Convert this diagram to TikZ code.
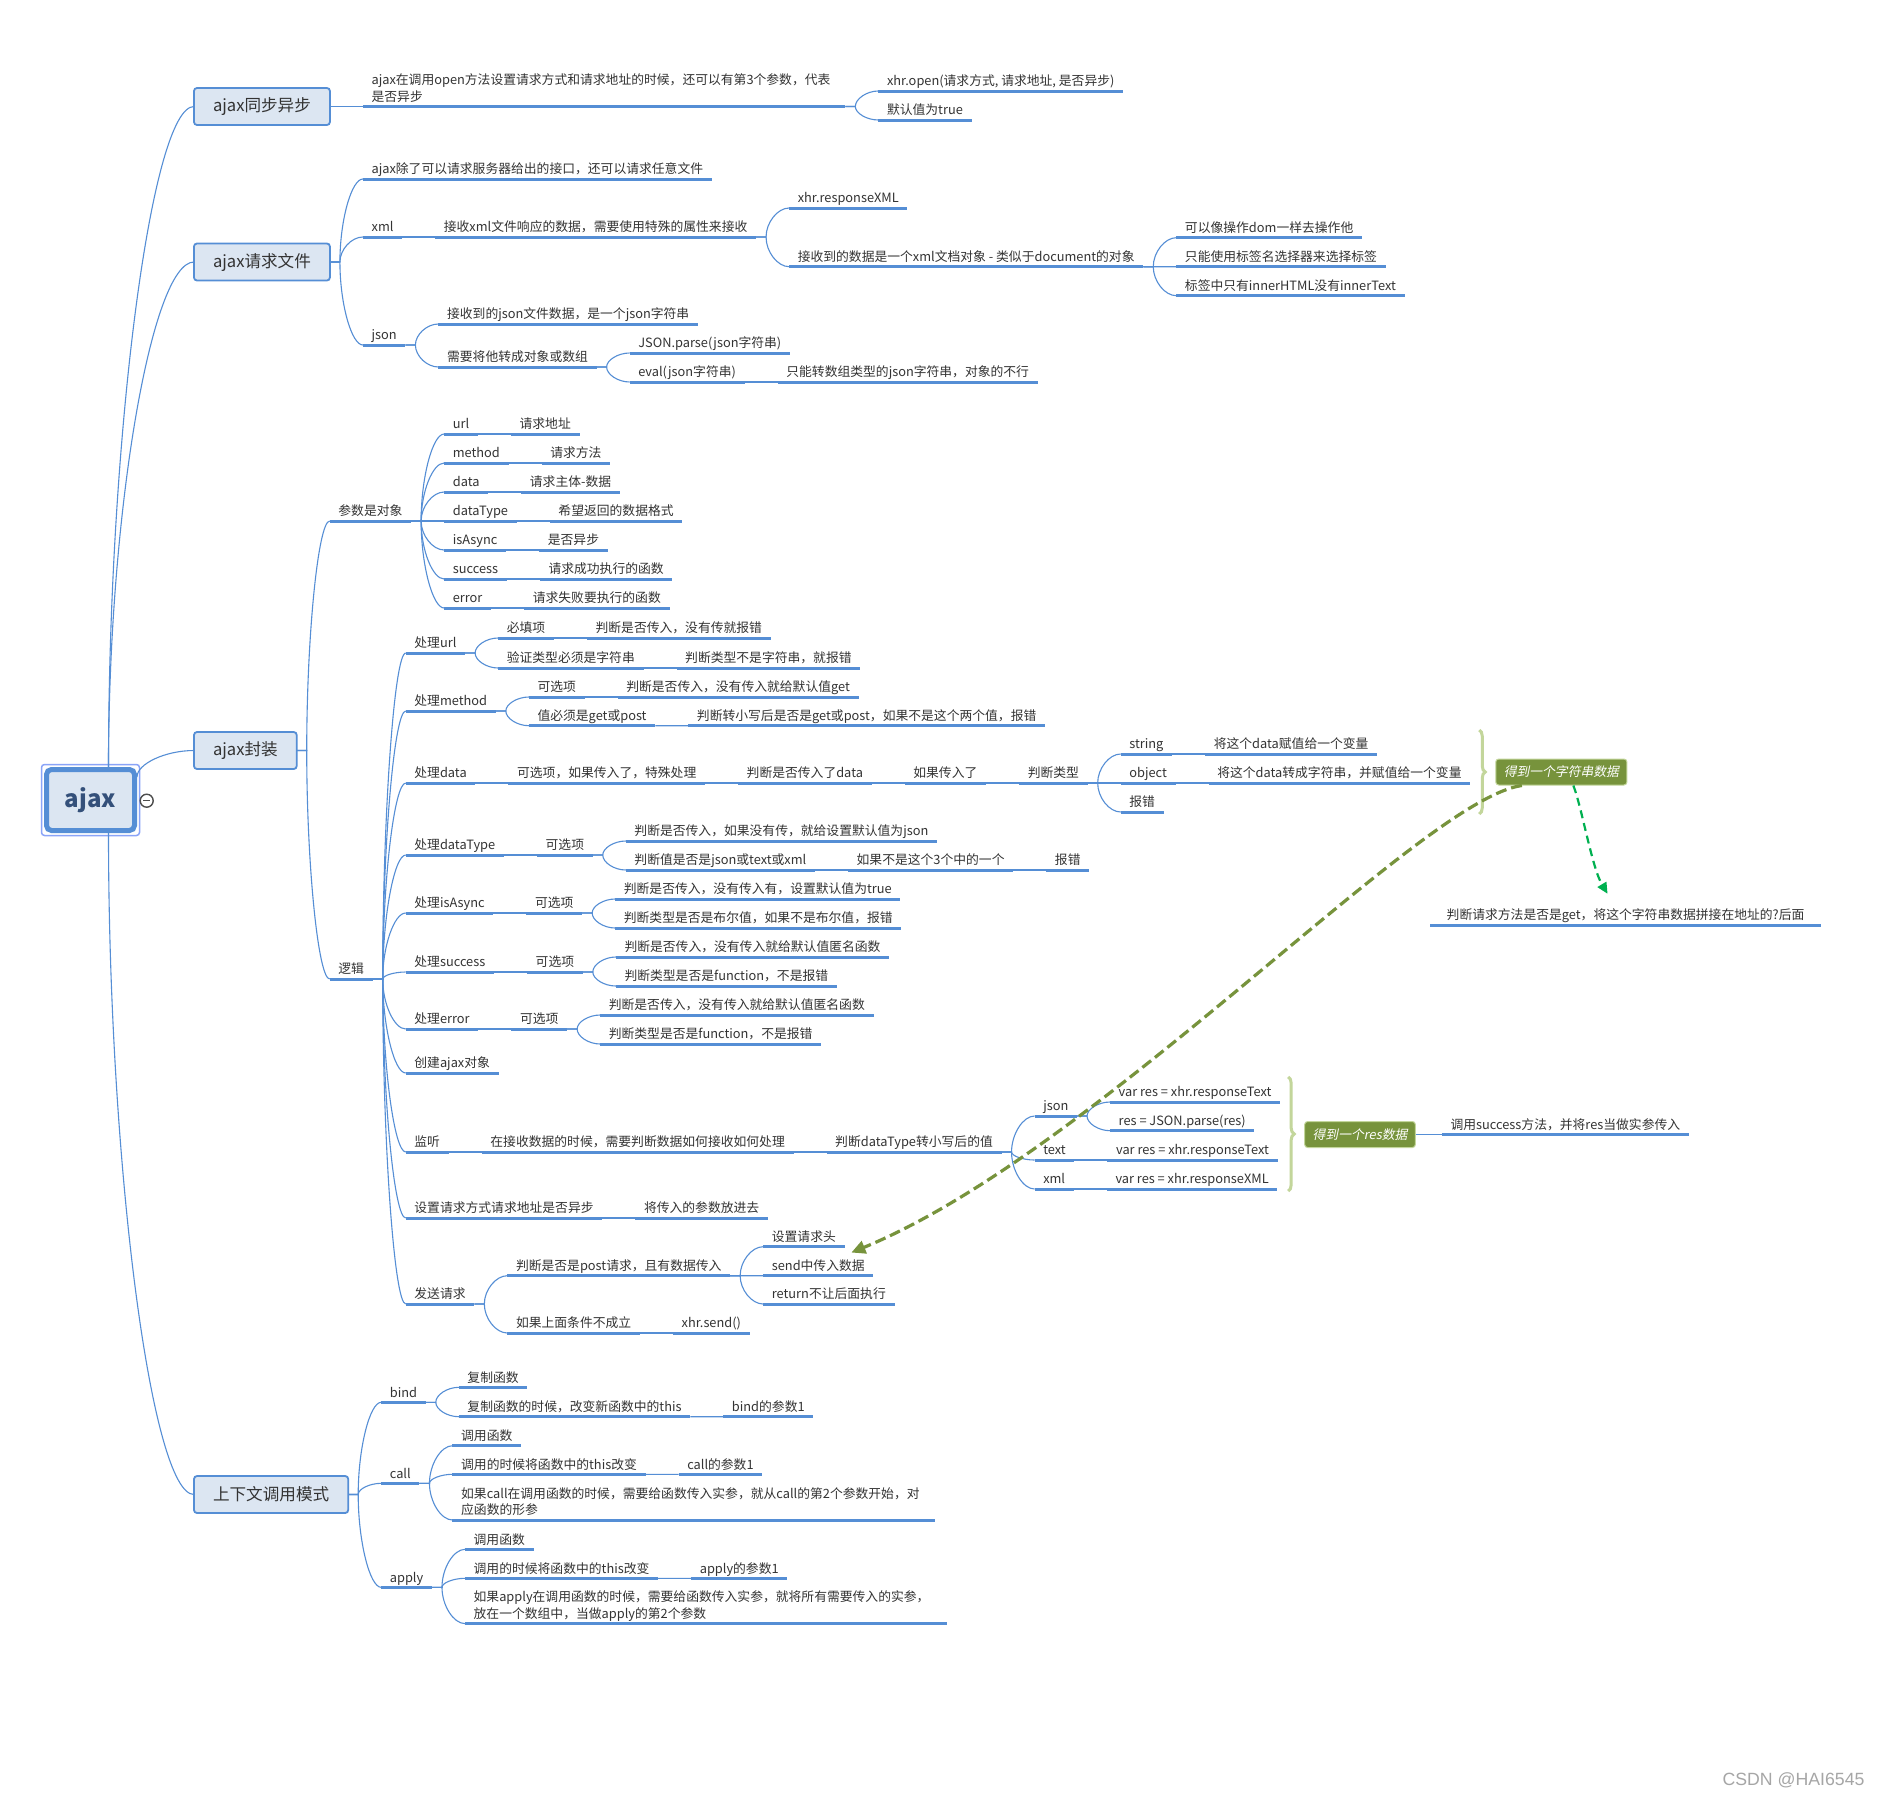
\documentclass[tikz,border=0pt]{standalone}
\usepackage{fontspec}
\setmainfont{Noto Sans CJK SC}
\newfontfamily\slantcjk[FakeSlant=0.2]{Noto Sans CJK SC}
\newfontfamily\wmfont{Liberation Sans}
\usetikzlibrary{arrows.meta,positioning,fit,calc,decorations.pathreplacing}
\definecolor{lnk}{HTML}{558ED5}
\definecolor{boxfill}{HTML}{DCE6F2}
\definecolor{txt}{HTML}{333333}
\definecolor{rootink}{HTML}{34507A}
\definecolor{selfrm}{HTML}{8AA4F8}
\definecolor{foldink}{HTML}{4D4D4D}
\definecolor{olive}{HTML}{77933C}
\definecolor{brc}{HTML}{C3D69B}
\definecolor{grn}{HTML}{00B050}
\definecolor{wmgray}{HTML}{A6A6A6}
\newcommand{\tsize}{\fontsize{12.8}{16.8}\selectfont}
\tikzset{
  topic/.style={anchor=south west,inner xsep=8.5pt,inner ysep=5pt,text depth=0pt,font=\tsize,text=txt,
    append after command={(\tikzlastnode.south west) edge[uline] (\tikzlastnode.south east)}},
  twoline/.style={text width=465pt,align=left,text depth=16.8pt},
  uline/.style={draw=lnk,line width=3pt},
  kid/.style={xshift=33pt},
  mainbox/.style={draw=lnk,line width=1.8pt,fill=boxfill,rounded corners=3pt,anchor=west,outer sep=0pt,
    inner xsep=19pt,minimum height=37pt,font=\fontsize{16.6}{20}\selectfont,text=txt},
  rootbox/.style={draw=lnk,line width=5pt,fill=boxfill,rounded corners=5pt,minimum width=88pt,
    minimum height=61pt,font=\fontsize{24}{28}\selectfont\bfseries,text=rootink},
  sumbox/.style={draw=brc,line width=1pt,fill=olive,rounded corners=3pt,anchor=west,text=white,
    font=\slantcjk\tsize,inner xsep=8pt,minimum height=26pt},
  grp/.style={draw=brc,line width=3pt,decorate,decoration={brace,amplitude=6pt}},
  foldmark/.style={circle,draw=foldink,line width=1.4pt,fill=white,minimum size=13pt,inner sep=0pt},
  link/.style={draw=lnk,line width=1.1pt,to path={-- ++(#1,0) coordinate (stb)
    .. controls ($(stb)!0.5!(stb|-\tikztotarget)$) and ($(\tikztotarget)!0.5!(stb|-\tikztotarget)$)
    .. (\tikztotarget)}},
  link/.default=10,
  jump/.style={-{Triangle[length=14pt,width=13pt]},draw=olive,line width=3.2pt,dash pattern=on 11pt off 5pt},
  hint/.style={-{Triangle[length=11pt,width=10pt]},draw=grn,line width=2.2pt,dash pattern=on 8pt off 5pt},
}
\begin{document}
\begin{tikzpicture}[x=1pt,y=-1pt]
\path[fill=white,use as bounding box] (0,0) rectangle (1881,1796);
% root and main topics
\node[rootbox] (root) at (90.5,800) {ajax};
\node[draw=selfrm,line width=1.5pt,rounded corners=3pt,fit=(root),inner sep=2.5pt] (sel) {};
\node[foldmark] (fold) at (146.7,800.7) {};
\draw[foldink,line width=1.4pt] ([xshift=-3.6pt]fold.center) -- ([xshift=3.6pt]fold.center);
\node[mainbox] (sync) at (194,106.5) {ajax同步异步};
\node[mainbox] (file) at (194,262) {ajax请求文件};
\node[mainbox] (wrap) at (194,750.5) {ajax封装};
\node[mainbox] (ctx) at (194,1494.5) {上下文调用模式};
\draw[link=0] ([xshift=18pt]root.north) to (sync.west);
\draw[link=0] ([xshift=18pt]root.north) to (file.west);
\draw[link=0] ([yshift=-10pt]root.north east) to (wrap.west);
\draw[link=0] ([xshift=18pt]root.south) to (ctx.west);

% ajax同步异步
\node[topic,kid,twoline] (syncq) at (sync.east) {ajax在调用open方法设置请求方式和请求地址的时候，还可以有第3个参数，代表\\是否异步};
\node[topic,kid] (xopen) at (syncq.south east |- 0,91) {xhr.open(请求方式, 请求地址, 是否异步)};
\node[topic,kid] (deftrue) at (syncq.south east |- 0,120) {默认值为true};

% ajax请求文件
\node[topic,kid] (fany) at (file.east |- 0,179) {ajax除了可以请求服务器给出的接口，还可以请求任意文件};
\node[topic,kid] (fxml) at (file.east |- 0,237) {xml};
\node[topic,kid] (xrecv) at (fxml.south east) {接收xml文件响应的数据，需要使用特殊的属性来接收};
\node[topic,kid] (xprop) at (xrecv.south east |- 0,208) {xhr.responseXML};
\node[topic,kid] (xdoc) at (xrecv.south east |- 0,266.7) {接收到的数据是一个xml文档对象 - 类似于document的对象};
\node[topic,kid] (xdom) at (xdoc.south east |- 0,237.7) {可以像操作dom一样去操作他};
\node[topic,kid] (xtag) at (xdoc.south east) {只能使用标签名选择器来选择标签};
\node[topic,kid] (xinner) at (xdoc.south east |- 0,295.7) {标签中只有innerHTML没有innerText};
\node[topic,kid] (fjson) at (file.east |- 0,345) {json};
\node[topic,kid] (jrecv) at (fjson.south east |- 0,324) {接收到的json文件数据，是一个json字符串};
\node[topic,kid] (jconv) at (fjson.south east |- 0,367) {需要将他转成对象或数组};
\node[topic,kid] (jparse) at (jconv.south east |- 0,353) {JSON.parse(json字符串)};
\node[topic,kid] (jeval) at (jconv.south east |- 0,382) {eval(json字符串)};
\node[topic,kid] (jevalno) at (jeval.south east) {只能转数组类型的json字符串，对象的不行};

% ajax封装: 参数
\node[topic,kid] (param) at (wrap.east |- 0,521) {参数是对象};
\foreach \nm/\py/\pk/\pv in {purl/434/url/请求地址, pmeth/463/method/请求方法, pdata/492/data/请求主体-数据,
    ptype/521/dataType/希望返回的数据格式, pasync/550/isAsync/是否异步, psucc/579/success/请求成功执行的函数,
    perr/608/error/请求失败要执行的函数} {
  \node[topic,kid] (\nm) at (param.south east |- 0,\py) {\pk};
  \node[topic,kid] (\nm-v) at (\nm.south east) {\pv};
  \draw[link] (param.south east) to (\nm.south west);
  \draw[link] (\nm.south east) to (\nm-v.south west);
}

% ajax封装: 逻辑
\node[topic,kid] (logic) at (wrap.east |- 0,979) {逻辑};
\node[topic,kid] (hurl) at (logic.south east |- 0,653) {处理url};
\node[topic,kid] (hurlreq) at (hurl.south east |- 0,638) {必填项};
\node[topic,kid] (hurlreqd) at (hurlreq.south east) {判断是否传入，没有传就报错};
\node[topic,kid] (hurlstr) at (hurl.south east |- 0,668) {验证类型必须是字符串};
\node[topic,kid] (hurlstrd) at (hurlstr.south east) {判断类型不是字符串，就报错};
\node[topic,kid] (hmeth) at (logic.south east |- 0,711) {处理method};
\node[topic,kid] (hmethopt) at (hmeth.south east |- 0,697) {可选项};
\node[topic,kid] (hmethoptd) at (hmethopt.south east) {判断是否传入，没有传入就给默认值get};
\node[topic,kid] (hmethval) at (hmeth.south east |- 0,725.7) {值必须是get或post};
\node[topic,kid] (hmethvald) at (hmethval.south east) {判断转小写后是否是get或post，如果不是这个两个值，报错};
\node[topic,kid] (hdata) at (logic.south east |- 0,783) {处理data};
\node[topic,kid] (hdata1) at (hdata.south east) {可选项，如果传入了，特殊处理};
\node[topic,kid] (hdata2) at (hdata1.south east) {判断是否传入了data};
\node[topic,kid] (hdata3) at (hdata2.south east) {如果传入了};
\node[topic,kid] (hdata4) at (hdata3.south east) {判断类型};
\node[topic,kid] (dstr) at (hdata4.south east |- 0,754) {string};
\node[topic,kid] (dstrd) at (dstr.south east) {将这个data赋值给一个变量};
\node[topic,kid] (dobj) at (hdata4.south east) {object};
\node[topic,kid] (dobjd) at (dobj.south east) {将这个data转成字符串，并赋值给一个变量};
\node[topic,kid] (derr) at (hdata4.south east |- 0,812) {报错};
\coordinate (gs) at ([xshift=9pt]dobjd.south east);
\draw[grp] (gs |- 0,730) -- (gs |- 0,814);
\node[sumbox,xshift=16pt] (strbox) at (gs |- 0,772) {得到一个字符串数据};
\node[topic,inner xsep=16.5pt] (getn) at (1430,925) {判断请求方法是否是get，将这个字符串数据拼接在地址的?后面};
\node[topic,kid] (htype) at (logic.south east |- 0,855) {处理dataType};
\node[topic,kid] (htypeopt) at (htype.south east) {可选项};
\node[topic,kid] (htypedef) at (htypeopt.south east |- 0,841) {判断是否传入，如果没有传，就给设置默认值为json};
\node[topic,kid] (htypeval) at (htypeopt.south east |- 0,870) {判断值是否是json或text或xml};
\node[topic,kid] (htypeval1) at (htypeval.south east) {如果不是这个3个中的一个};
\node[topic,kid] (htypeval2) at (htypeval1.south east) {报错};
\node[topic,kid] (hasync) at (logic.south east |- 0,913) {处理isAsync};
\node[topic,kid] (hasyncopt) at (hasync.south east) {可选项};
\node[topic,kid] (hasyncdef) at (hasyncopt.south east |- 0,899) {判断是否传入，没有传入有，设置默认值为true};
\node[topic,kid] (hasyncval) at (hasyncopt.south east |- 0,928) {判断类型是否是布尔值，如果不是布尔值，报错};
\node[topic,kid] (hsucc) at (logic.south east |- 0,972) {处理success};
\node[topic,kid] (hsuccopt) at (hsucc.south east) {可选项};
\node[topic,kid] (hsuccdef) at (hsuccopt.south east |- 0,957) {判断是否传入，没有传入就给默认值匿名函数};
\node[topic,kid] (hsuccval) at (hsuccopt.south east |- 0,986) {判断类型是否是function，不是报错};
\node[topic,kid] (herr) at (logic.south east |- 0,1029) {处理error};
\node[topic,kid] (herropt) at (herr.south east) {可选项};
\node[topic,kid] (herrdef) at (herropt.south east |- 0,1015) {判断是否传入，没有传入就给默认值匿名函数};
\node[topic,kid] (herrval) at (herropt.south east |- 0,1044) {判断类型是否是function，不是报错};
\node[topic,kid] (hxhr) at (logic.south east |- 0,1073) {创建ajax对象};
\node[topic,kid] (hlisten) at (logic.south east |- 0,1152) {监听};
\node[topic,kid] (hlisten1) at (hlisten.south east) {在接收数据的时候，需要判断数据如何接收如何处理};
\node[topic,kid] (hlisten2) at (hlisten1.south east) {判断dataType转小写后的值};
\node[topic,kid] (ljson) at (hlisten2.south east |- 0,1116) {json};
\node[topic,kid] (ljson1) at (ljson.south east |- 0,1102) {var res = xhr.responseText};
\node[topic,kid] (ljson2) at (ljson.south east |- 0,1130.7) {res = JSON.parse(res)};
\node[topic,kid] (ltext) at (hlisten2.south east |- 0,1160) {text};
\node[topic,kid] (ltext1) at (ltext.south east) {var res = xhr.responseText};
\node[topic,kid] (lxml) at (hlisten2.south east |- 0,1189) {xml};
\node[topic,kid] (lxml1) at (lxml.south east) {var res = xhr.responseXML};
\coordinate (gr) at ([xshift=8pt]ljson1.south east);
\draw[grp] (gr |- 0,1077) -- (gr |- 0,1191);
\node[sumbox,xshift=16pt] (resbox) at (gr |- 0,1134.5) {得到一个res数据};
\node[topic,xshift=26pt] (callsucc) at (resbox.east) {调用success方法，并将res当做实参传入};
\node[topic,kid] (hset) at (logic.south east |- 0,1218) {设置请求方式请求地址是否异步};
\node[topic,kid] (hset1) at (hset.south east) {将传入的参数放进去};
\node[topic,kid] (hsend) at (logic.south east |- 0,1304) {发送请求};
\node[topic,kid] (hpost) at (hsend.south east |- 0,1275.7) {判断是否是post请求，且有数据传入};
\node[topic,kid] (hhead) at (hpost.south east |- 0,1246.7) {设置请求头};
\node[topic,kid] (hbody) at (hpost.south east) {send中传入数据};
\node[topic,kid] (hret) at (hpost.south east |- 0,1304) {return不让后面执行};
\node[topic,kid] (helse) at (hsend.south east |- 0,1333) {如果上面条件不成立};
\node[topic,kid] (hsendx) at (helse.south east) {xhr.send()};

% 上下文调用模式
\node[topic,kid] (cbind) at (ctx.east |- 0,1402.3) {bind};
\node[topic,kid] (cbind1) at (cbind.south east |- 0,1387.3) {复制函数};
\node[topic,kid] (cbind2) at (cbind.south east |- 0,1416.7) {复制函数的时候，改变新函数中的this};
\node[topic,kid] (cbind3) at (cbind2.south east) {bind的参数1};
\node[topic,kid] (ccall) at (ctx.east |- 0,1483.3) {call};
\node[topic,kid] (ccall1) at (ccall.south east |- 0,1445.7) {调用函数};
\node[topic,kid] (ccall2) at (ccall.south east |- 0,1474.3) {调用的时候将函数中的this改变};
\node[topic,kid] (ccall3) at (ccall2.south east) {call的参数1};
\node[topic,kid,twoline] (ccall4) at (ccall.south east |- 0,1520) {如果call在调用函数的时候，需要给函数传入实参，就从call的第2个参数开始，对\\应函数的形参};
\node[topic,kid] (capply) at (ctx.east |- 0,1587.3) {apply};
\node[topic,kid] (capply1) at (capply.south east |- 0,1549.3) {调用函数};
\node[topic,kid] (capply2) at (capply.south east |- 0,1578.3) {调用的时候将函数中的this改变};
\node[topic,kid] (capply3) at (capply2.south east) {apply的参数1};
\node[topic,kid,twoline] (capply4) at (capply.south east |- 0,1623.6) {如果apply在调用函数的时候，需要给函数传入实参，就将所有需要传入的实参，\\放在一个数组中，当做apply的第2个参数};

% connectors from the boxes
\draw[link] (sync.east) to (syncq.south west);
\foreach \nm in {fany, fxml, fjson} \draw[link] (file.east) to (\nm.south west);
\foreach \nm in {param, logic} \draw[link] (wrap.east) to (\nm.south west);
\foreach \nm in {cbind, ccall, capply} \draw[link] (ctx.east) to (\nm.south west);
\draw[link] (resbox.east) to (callsucc.south west);
% connectors between topics
\foreach \a/\b in {syncq/xopen, syncq/deftrue, fxml/xrecv, xrecv/xprop, xrecv/xdoc, xdoc/xdom, xdoc/xtag,
    xdoc/xinner, fjson/jrecv, fjson/jconv, jconv/jparse, jconv/jeval, jeval/jevalno,
    logic/hurl, hurl/hurlreq, hurlreq/hurlreqd, hurl/hurlstr, hurlstr/hurlstrd,
    logic/hmeth, hmeth/hmethopt, hmethopt/hmethoptd, hmeth/hmethval, hmethval/hmethvald,
    logic/hdata, hdata/hdata1, hdata1/hdata2, hdata2/hdata3, hdata3/hdata4,
    hdata4/dstr, dstr/dstrd, hdata4/dobj, dobj/dobjd, hdata4/derr,
    logic/htype, htype/htypeopt, htypeopt/htypedef, htypeopt/htypeval, htypeval/htypeval1, htypeval1/htypeval2,
    logic/hasync, hasync/hasyncopt, hasyncopt/hasyncdef, hasyncopt/hasyncval,
    logic/hsucc, hsucc/hsuccopt, hsuccopt/hsuccdef, hsuccopt/hsuccval,
    logic/herr, herr/herropt, herropt/herrdef, herropt/herrval, logic/hxhr,
    logic/hlisten, hlisten/hlisten1, hlisten1/hlisten2, hlisten2/ljson, ljson/ljson1, ljson/ljson2,
    hlisten2/ltext, ltext/ltext1, hlisten2/lxml, lxml/lxml1,
    logic/hset, hset/hset1, logic/hsend, hsend/hpost, hpost/hhead, hpost/hbody, hpost/hret,
    hsend/helse, helse/hsendx,
    cbind/cbind1, cbind/cbind2, cbind2/cbind3, ccall/ccall1, ccall/ccall2, ccall2/ccall3, ccall/ccall4,
    capply/capply1, capply/capply2, capply2/capply3, capply/capply4}
  \draw[link] (\a.south east) to (\b.south west);

% dashed relations
\draw[jump] ([xshift=-39.5pt]strbox.south) .. controls (1420,800) and (1100,1150) .. ([xshift=-22pt,yshift=2pt]hbody.north east);
\draw[hint] ([xshift=12pt]strbox.south) .. controls (1582,808) and (1592,868) .. ([xshift=-18pt,yshift=10pt]getn.north);

\node[anchor=base west,text=wmgray,font=\wmfont\fontsize{17.7}{20}\selectfont] (wm) at (1719,1785) {CSDN @HAI6545};
\end{tikzpicture}
\end{document}
